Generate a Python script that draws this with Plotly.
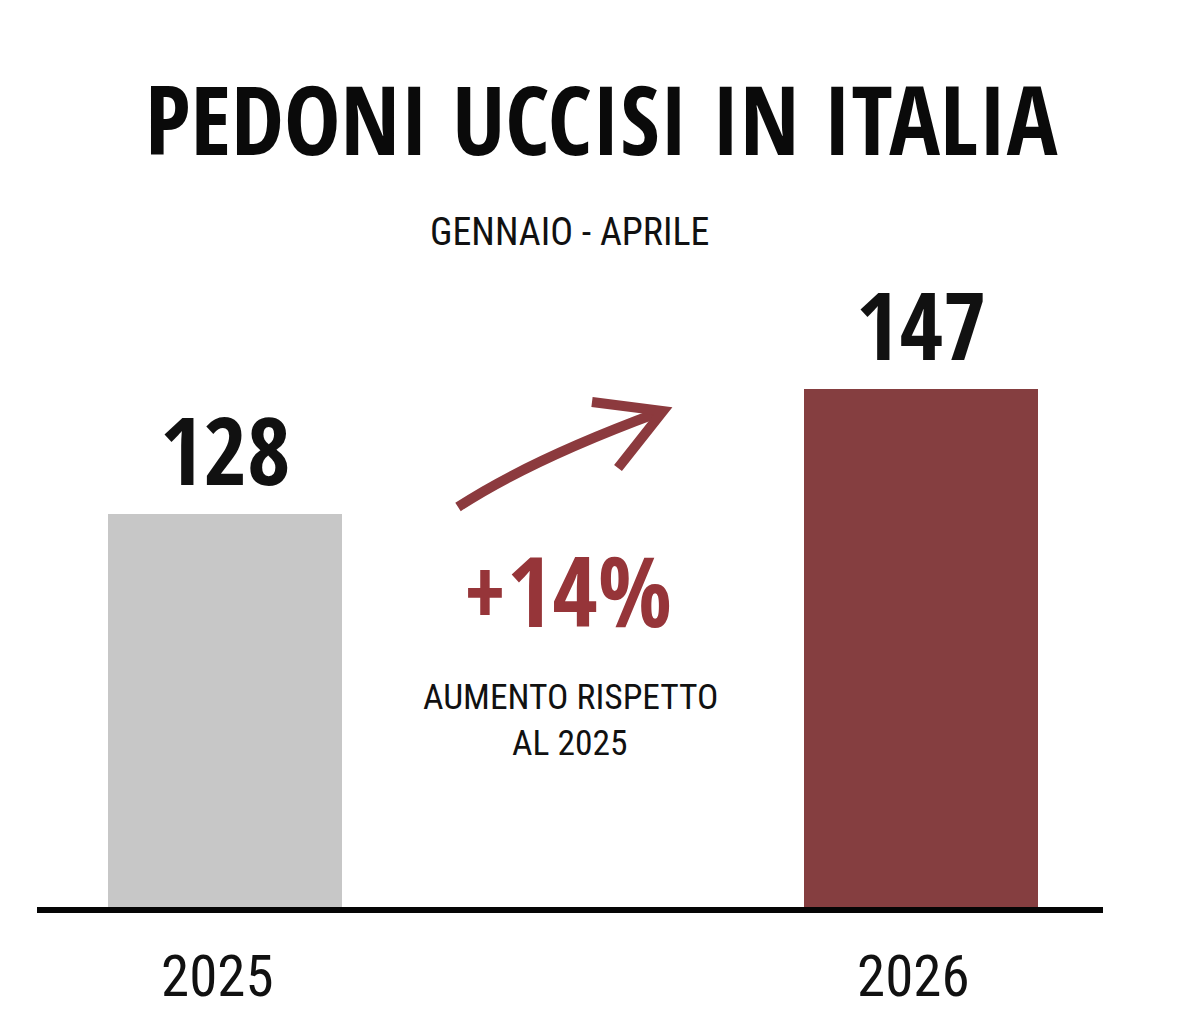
import plotly.graph_objects as go

# data
years = ["2025", "2026"]
deaths = [128, 147]
bar_colors = ["#C7C7C7", "#853E40"]
title_text = "PEDONI UCCISI IN ITALIA"
subtitle_text = "GENNAIO - APRILE"
change_text = "+14%"
note_lines = ["AUMENTO RISPETTO", "AL 2025"]

W, H = 1200, 1025
OFF = 8  # the page puts the plot 8px in from the top-left corner
ML, MR, MT, MB = 37 - OFF, 97 + OFF, 180 - OFF, 118 + OFF

RED = "#963539"
BOLD = "Open Sans Condensed, Roboto Condensed, DejaVu Sans Condensed, sans-serif"
LIGHT = "Roboto Condensed, DejaVu Sans Condensed, sans-serif"


def px(x, y):
    """pixel position in the reference picture -> paper coords"""
    x, y = x - OFF, y - OFF
    return ((x - ML) / (W - ML - MR), (H - MB - y) / (H - MT - MB))


fig = go.Figure()
fig.add_trace(go.Bar(
    x=years, y=deaths, width=0.336,
    marker=dict(color=bar_colors, line=dict(width=0)),
    hoverinfo="skip",
))

annotations = []

# value labels over the bars, year labels under the baseline
for i, (yr, val) in enumerate(zip(years, deaths)):
    annotations.append(dict(
        x=i, y=val, xref="x", yref="y", text=str(val), showarrow=False,
        yanchor="middle", yshift=65,
        font=dict(family=BOLD, size=94, color="#111111", weight=700),
    ))
    annotations.append(dict(
        x=i, y=0, xref="x", yref="paper", text=yr, showarrow=False,
        yanchor="middle", yshift=-69, xshift=-8,
        font=dict(family=LIGHT, size=57, color="#111111", weight=400),
    ))

# title + subtitle
tx, ty = px(601, 118)
annotations.append(dict(x=tx, y=ty, xref="paper", yref="paper", text=title_text,
                        showarrow=False, yanchor="middle",
                        font=dict(family=BOLD, size=95, color="#0A0A0A", weight=700)))
sx, sy = px(570, 232)
annotations.append(dict(x=sx, y=sy, xref="paper", yref="paper", text=subtitle_text,
                        showarrow=False, yanchor="middle",
                        font=dict(family=LIGHT, size=38, color="#111111", weight=400)))

# change callout
cx, cy = px(567, 589)
annotations.append(dict(x=cx, y=cy, xref="paper", yref="paper", text=change_text,
                        showarrow=False, yanchor="middle",
                        font=dict(family=BOLD, size=98, color=RED, weight=700)))
for line, ypix in zip(note_lines, [697, 743]):
    nx, ny = px(570, ypix)
    annotations.append(dict(x=nx, y=ny, xref="paper", yref="paper", text=line,
                            showarrow=False, yanchor="middle",
                            font=dict(family=LIGHT, size=35.5, color="#111111", weight=400)))

# hand-drawn style arrow
p0, c1, p2 = px(458, 507), px(530, 460), px(657, 413)
head_a, tip, head_b = px(592, 402), px(663, 411), px(618, 468)
shapes = [
    dict(type="path", xref="paper", yref="paper",
         path=f"M {p0[0]},{p0[1]} Q {c1[0]},{c1[1]} {p2[0]},{p2[1]}",
         line=dict(color="#8C3A3E", width=10)),
    dict(type="path", xref="paper", yref="paper",
         path=f"M {head_a[0]},{head_a[1]} L {tip[0]},{tip[1]} L {head_b[0]},{head_b[1]}",
         line=dict(color="#8C3A3E", width=10)),
]

fig.update_layout(
    width=W, height=H,
    margin=dict(l=ML, r=MR, t=MT, b=MB),
    paper_bgcolor="white", plot_bgcolor="white",
    showlegend=False,
    annotations=annotations,
    shapes=shapes,
    bargap=0,
)
fig.update_xaxes(type="category", range=[-0.2702, 1.2615], showticklabels=False,
                 showgrid=False, zeroline=False, showline=True,
                 linecolor="#050505", linewidth=6, fixedrange=True)
fig.update_yaxes(range=[68.3, 68.3 + (H - MT - MB) / 6.58], visible=False,
                 showgrid=False, fixedrange=True)

fig.write_html("out.html", config={"displayModeBar": False})
